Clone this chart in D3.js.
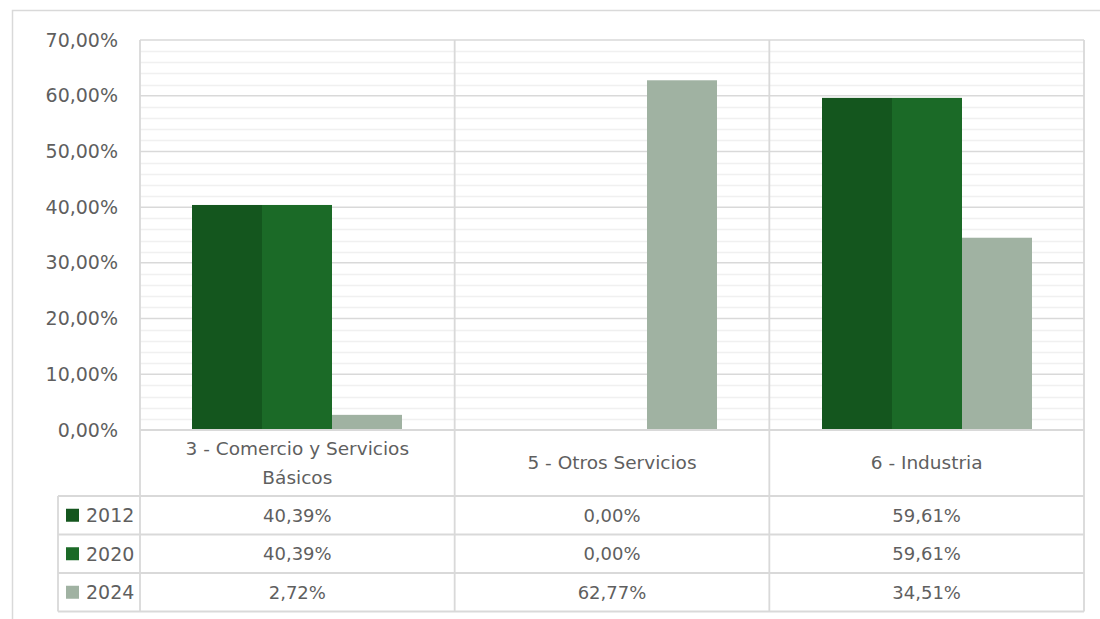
<!DOCTYPE html>
<html>
<head>
<meta charset="utf-8">
<script src="https://cdn.jsdelivr.net/npm/d3@7"></script>
<style>
  html, body { margin: 0; padding: 0; background: #ffffff; }
  svg { display: block; }
  text { font-family: "DejaVu Sans", "Liberation Sans", sans-serif; fill: #5f5f5f; }
</style>
</head>
<body>
<svg id="chart" width="1100" height="619"></svg>
<script>
// Share of each sector by year
const categories = ["3 - Comercio y Servicios Básicos", "5 - Otros Servicios", "6 - Industria"];
const seriesNames = ["2012", "2020", "2024"];
const values2012 = [0.4039, 0.0000, 0.5961];
const values2020 = [0.4039, 0.0000, 0.5961];
const values2024 = [0.0272, 0.6277, 0.3451];
const seriesColors = ["#14561e", "#1b6a27", "#a0b2a2"];
const yTicks = [0, 0.1, 0.2, 0.3, 0.4, 0.5, 0.6, 0.7];

const seriesValues = [values2012, values2020, values2024];

const locale = d3.formatLocale({ decimal: ",", thousands: ".", grouping: [3], currency: ["", "€"], percent: "%" });
const pct = locale.format(".2%");

const svg = d3.select("#chart");
const W = 1100, H = 619;

// Plot area and table geometry
const plot = { left: 140, right: 1084, top: 40, bottom: 430 };
const catRowBottom = 496;
const rowH = 38.5;
const tableLeft = 58;
const tableBottom = catRowBottom + rowH * seriesNames.length;

const gridMajor = "#d9d9d9";
const gridMinor = "#f0f0f0";

svg.append("rect").attr("width", W).attr("height", H).attr("fill", "#ffffff");

// Outer chart frame (clipped on right and bottom)
svg.append("path")
  .attr("d", `M12.5,${H} V10.5 H${W}`)
  .attr("fill", "none").attr("stroke", "#d9d9d9").attr("stroke-width", 1.5);

const y = d3.scaleLinear().domain([0, 0.7]).range([plot.bottom, plot.top]);
const x = d3.scaleBand().domain(categories).range([plot.left, plot.right]).paddingInner(0).paddingOuter(0);
const xs = d3.scaleBand().domain(seriesNames).range([0, x.bandwidth()]).paddingInner(0).paddingOuter(0.75);

// Minor gridlines every 2%
const minorTicks = d3.range(0, 71, 2).map(d => d / 100).filter(d => Math.round(d * 100) % 10 !== 0);
svg.append("g").selectAll("line").data(minorTicks).join("line")
  .attr("x1", plot.left).attr("x2", plot.right)
  .attr("y1", d => Math.round(y(d)) + 0.5).attr("y2", d => Math.round(y(d)) + 0.5)
  .attr("stroke", gridMinor).attr("stroke-width", 1.5);

// Major gridlines
svg.append("g").selectAll("line").data(yTicks).join("line")
  .attr("x1", plot.left).attr("x2", plot.right)
  .attr("y1", d => y(d)).attr("y2", d => y(d))
  .attr("stroke", gridMajor).attr("stroke-width", 1.5);

// Bars (snapped to whole pixels so adjacent bars meet without a seam)
const barG = svg.append("g");
seriesNames.forEach((s, si) => {
  barG.append("g").selectAll("rect").data(categories.map((c, ci) => ({ c, v: seriesValues[si][ci] })))
    .join("rect")
    .attr("x", d => Math.round(x(d.c) + xs(s)))
    .attr("width", d => Math.round(x(d.c) + xs(s) + xs.bandwidth()) - Math.round(x(d.c) + xs(s)))
    .attr("y", d => y(d.v))
    .attr("height", d => y(0) - y(d.v))
    .attr("fill", seriesColors[si]);
});

// Y axis labels
const yAxis = d3.axisLeft(y).tickValues(yTicks).tickFormat(pct).tickSize(0).tickPadding(0);
const yg = svg.append("g").attr("transform", `translate(118,0)`).call(yAxis);
yg.select(".domain").remove();
yg.selectAll("text").attr("font-size", 19).attr("fill", "#5f5f5f")
  .style("font-family", '"DejaVu Sans", sans-serif');

// Table lines
const lines = svg.append("g").attr("stroke", gridMajor).attr("stroke-width", 1.8).attr("fill", "none");
// vertical category separators running through plot and table
const vx = categories.map(c => x(c)).concat([plot.right]);
vx.forEach(v => lines.append("line").attr("x1", v).attr("x2", v).attr("y1", plot.top).attr("y2", tableBottom));
lines.append("line").attr("x1", tableLeft).attr("x2", tableLeft).attr("y1", catRowBottom).attr("y2", tableBottom);
lines.append("line").attr("x1", plot.left).attr("x2", plot.right).attr("y1", plot.bottom).attr("y2", plot.bottom);
d3.range(seriesNames.length + 1).forEach(i => {
  const yy = catRowBottom + i * rowH;
  lines.append("line").attr("x1", tableLeft).attr("x2", plot.right).attr("y1", yy).attr("y2", yy);
});

// Category labels (wrapped)
function wrapWords(text, maxW, size) {
  const probe = svg.append("text").attr("font-size", size);
  const words = text.split(" ");
  const out = [];
  let line = [];
  words.forEach(w => {
    const test = line.concat([w]).join(" ");
    probe.text(test);
    if (probe.node().getComputedTextLength() > maxW && line.length) {
      out.push(line.join(" "));
      line = [w];
    } else {
      line.push(w);
    }
  });
  if (line.length) out.push(line.join(" "));
  probe.remove();
  return out;
}

const catSize = 18.5;
const catMid = (plot.bottom + catRowBottom) / 2;
categories.forEach(c => {
  const parts = wrapWords(c, 260, catSize);
  const lh = 29;
  const t = svg.append("text").attr("text-anchor", "middle").attr("font-size", catSize);
  parts.forEach((p, i) => {
    t.append("tspan")
      .attr("x", x(c) + x.bandwidth() / 2)
      .attr("y", catMid + (i - (parts.length - 1) / 2) * lh)
      .attr("dy", "0.35em")
      .text(p);
  });
});

// Series rows: legend key, name, values
seriesNames.forEach((s, si) => {
  const cy = catRowBottom + si * rowH + rowH / 2;
  svg.append("rect").attr("x", 66).attr("y", cy - 6.5).attr("width", 13).attr("height", 13).attr("fill", seriesColors[si]);
  svg.append("text").attr("x", 86).attr("y", cy).attr("dy", "0.36em").attr("font-size", 19).text(s);
  categories.forEach((c, ci) => {
    svg.append("text")
      .attr("x", x(c) + x.bandwidth() / 2)
      .attr("y", cy).attr("dy", "0.36em")
      .attr("text-anchor", "middle").attr("font-size", 18)
      .text(pct(seriesValues[si][ci]));
  });
});
</script>
</body>
</html>
